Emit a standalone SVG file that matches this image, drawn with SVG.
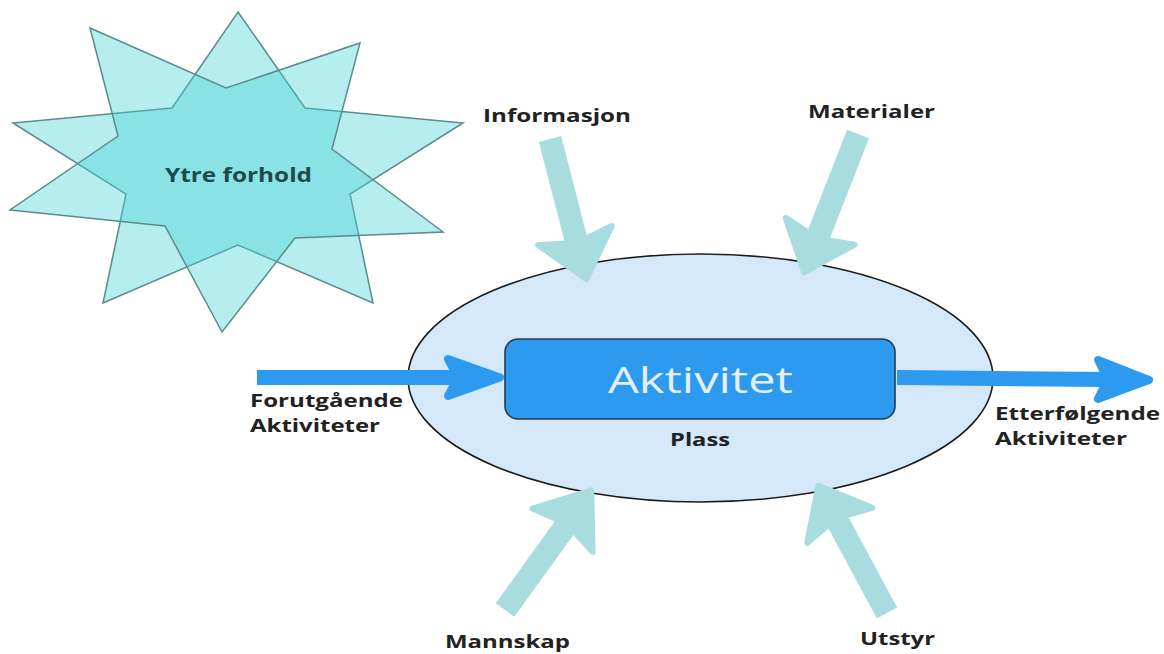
<svg xmlns="http://www.w3.org/2000/svg" width="1164" height="654" viewBox="0 0 1164 654">
<style>
.star{fill:#42d4d6;fill-opacity:0.39;stroke:#5b8b8c;stroke-width:1.5;stroke-linejoin:miter}
.lbl{font-family:"Open Sans","Liberation Sans",sans-serif;font-weight:bold;font-size:18.5px;fill:#222}
.teal{fill:#a8dcdf}
.tealhead{fill:#a8dcdf;stroke:#a8dcdf;stroke-width:6;stroke-linejoin:round}
.blue{fill:#2d9af0}
.bluehead{fill:#2d9af0;stroke:#2d9af0;stroke-width:8;stroke-linejoin:round}
</style>
<rect width="1164" height="654" fill="#ffffff"/>
<g id="ytre-forhold">
<polygon class="star" points="238,12 305,108 463,123 350,194 373,303 238,245 103,303 126,194 13,123 172,108"/>
<polygon class="star" points="90,28 226,88 360,43 332,149 443,232 295,238 222,332 165,226 10,210 118,136"/>
<text class="lbl" x="165" y="182" textLength="147" lengthAdjust="spacingAndGlyphs" style="fill:#1d4a4c;font-size:19px">Ytre forhold</text>
</g>
<g id="plass">
<ellipse cx="700.5" cy="378" rx="292.5" ry="124" fill="#d4e8f9" stroke="#1a1a1a" stroke-width="1.6"/>
<text class="lbl" x="670" y="446" textLength="60" lengthAdjust="spacingAndGlyphs">Plass</text>
</g>
<g id="aktivitet">
<rect x="505" y="339" width="390" height="80" rx="13" ry="13" fill="#2d9af0" stroke="#263a4e" stroke-width="1.6"/>
<text x="608" y="393" textLength="185" lengthAdjust="spacingAndGlyphs" font-family="'Open Sans','Liberation Sans',sans-serif" font-size="36" fill="#e3effa">Aktivitet</text>
</g>
<g id="connectors">
<g id="arrow-informasjon" transform="translate(550,139) rotate(75.5)">
<rect class="teal" x="0" y="-11.5" width="106.7" height="23"/>
<polygon class="tealhead" points="105.7,-8.5 99.7,-38 144.7,0 99.7,38 105.7,8.5"/>
</g>
<g id="arrow-materialer" transform="translate(858,134) rotate(111.3)">
<rect class="teal" x="0" y="-11.75" width="111.3" height="23.5"/>
<polygon class="tealhead" points="110.3,-8.75 104.3,-37 148.3,0 104.3,37 110.3,8.75"/>
</g>
<g id="arrow-mannskap" transform="translate(505,610) rotate(-54.2)">
<rect class="teal" x="0" y="-11.5" width="105.4" height="23"/>
<polygon class="tealhead" points="104.4,-8.5 98.4,-37 147.4,0 98.4,37 104.4,8.5"/>
</g>
<g id="arrow-utstyr" transform="translate(887,613) rotate(-118.3)">
<rect class="teal" x="0" y="-11.5" width="106.6" height="23"/>
<polygon class="tealhead" points="105.6,-8.5 99.6,-37 144.6,0 99.6,37 105.6,8.5"/>
</g>
<g id="arrow-forutgaende" transform="translate(257,377.5)">
<rect class="blue" x="0" y="-7.5" width="200" height="15"/>
<polygon class="bluehead" points="199,-3.5 191,-18.5 243,0 191,18.5 199,3.5"/>
</g>
<g id="arrow-etterfolgende" transform="translate(897,377.5) rotate(0.56)">
<rect class="blue" x="0" y="-7.5" width="210" height="15"/>
<polygon class="bluehead" points="209,-3.5 201,-19.5 252,0 201,19.5 209,3.5"/>
</g>
</g>
<g id="label-informasjon"><text class="lbl" x="483" y="122" textLength="148" lengthAdjust="spacingAndGlyphs">Informasjon</text></g>
<g id="label-materialer"><text class="lbl" x="808" y="118" textLength="127" lengthAdjust="spacingAndGlyphs">Materialer</text></g>
<g id="label-forutgaende">
<text class="lbl" x="250" y="407" textLength="153" lengthAdjust="spacingAndGlyphs">Forutgående</text>
<text class="lbl" x="250" y="432" textLength="130" lengthAdjust="spacingAndGlyphs">Aktiviteter</text>
</g>
<g id="label-etterfolgende">
<text class="lbl" x="995" y="420" textLength="165" lengthAdjust="spacingAndGlyphs">Etterfølgende</text>
<text class="lbl" x="995" y="445" textLength="132" lengthAdjust="spacingAndGlyphs">Aktiviteter</text>
</g>
<g id="label-mannskap"><text class="lbl" x="445" y="648" textLength="125" lengthAdjust="spacingAndGlyphs">Mannskap</text></g>
<g id="label-utstyr"><text class="lbl" x="860" y="645" textLength="75" lengthAdjust="spacingAndGlyphs">Utstyr</text></g>
</svg>
